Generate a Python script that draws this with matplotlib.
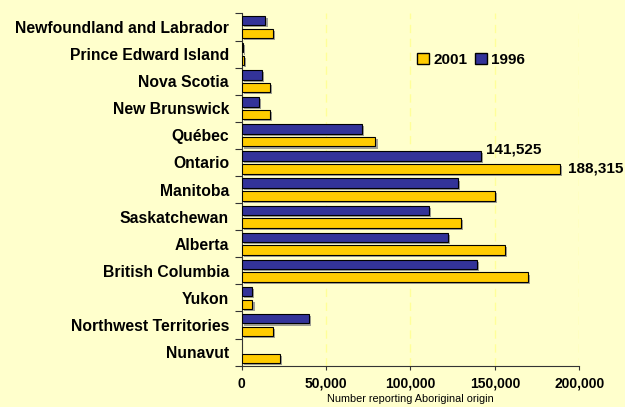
import numpy as np
import matplotlib.pyplot as plt
import matplotlib.patheffects as pe
from matplotlib.patches import Patch
from matplotlib.ticker import FuncFormatter

provinces = ["Newfoundland and Labrador", "Prince Edward Island", "Nova Scotia",
             "New Brunswick", "Québec", "Ontario", "Manitoba", "Saskatchewan",
             "Alberta", "British Columbia", "Yukon", "Northwest Territories", "Nunavut"]
v1996 = [14200, 950, 12300, 10300, 71400, 141525, 128400, 111000, 122500, 139500, 6300, 39700, 0]
v2001 = [18800, 1350, 17000, 17000, 79300, 188315, 150000, 130000, 156000, 169600, 6500, 18500, 22700]

blue = "#333399"
yellow = "#FFCC00"
bg = "#FFFFCC"

plt.rcParams['font.family'] = ['Liberation Sans', 'DejaVu Sans']
plt.rcParams['font.weight'] = 'bold'

fig = plt.figure(figsize=(6.25, 4.07), dpi=100, facecolor=bg)
ax = fig.add_axes([0.3864, 0.1015, 0.5405, 0.8655], facecolor=bg)

y = np.arange(len(provinces))
h = 0.35
shadow = [pe.SimplePatchShadow(offset=(1.5, -1.5), shadow_rgbFace="#888888", alpha=0.8), pe.Normal()]
b1 = ax.barh(y - 0.235, v1996, height=h, color=blue, edgecolor="black", linewidth=0.8, zorder=3)
b2 = ax.barh(y + 0.235, v2001, height=h, color=yellow, edgecolor="black", linewidth=0.8, zorder=3)
for b in list(b1) + list(b2):
    if b.get_width() > 0:
        b.set_path_effects(shadow)
    else:
        b.set_visible(False)

ax.set_xlim(0, 200000)
ax.set_ylim(len(provinces) - 0.5, -0.5)
ax.set_xticks([0, 50000, 100000, 150000, 200000])
ax.xaxis.set_major_formatter(FuncFormatter(lambda v, p: f"{int(v):,}"))
ax.tick_params(axis='x', labelsize=10, length=3, color="#333333", pad=5)

ax.set_yticks(np.arange(len(provinces) + 1) - 0.5)
ax.set_yticklabels([])
ax.set_yticks(y, minor=True)
ax.set_yticklabels(provinces, minor=True, fontsize=11.3)
ax.tick_params(axis='y', which='major', length=5, color="#333333")
ax.tick_params(axis='y', which='minor', length=0, pad=9)

ax.xaxis.grid(True, linestyle=(0, (6, 4)), color="#FFFF99", linewidth=1, zorder=0)
ax.set_axisbelow(True)
for s in ["top", "right"]:
    ax.spines[s].set_visible(False)
for s in ["left", "bottom"]:
    ax.spines[s].set_color("#333333")

ax.set_xlabel("Number reporting Aboriginal origin", fontsize=7.8, labelpad=2)

# labels for Ontario
i = provinces.index("Ontario")
ax.annotate(f"{v1996[i]:,}", (v1996[i], i - 0.235), xytext=(4, 5), textcoords="offset points",
            fontsize=11, va="center", ha="left")
ax.annotate(f"{v2001[i]:,}", (v2001[i], i + 0.235), xytext=(6, 0), textcoords="offset points",
            fontsize=11, va="center", ha="left")

handles = [Patch(facecolor=yellow, edgecolor="black", label="2001"),
           Patch(facecolor=blue, edgecolor="black", label="1996")]
fig.legend(handles=handles, loc="center", bbox_to_anchor=(0.754, 0.853), ncol=2, frameon=False,
           fontsize=11, handlelength=0.75, handleheight=0.75, handletextpad=0.3, columnspacing=0.5)

plt.savefig("out.png", dpi=100, facecolor=bg)
